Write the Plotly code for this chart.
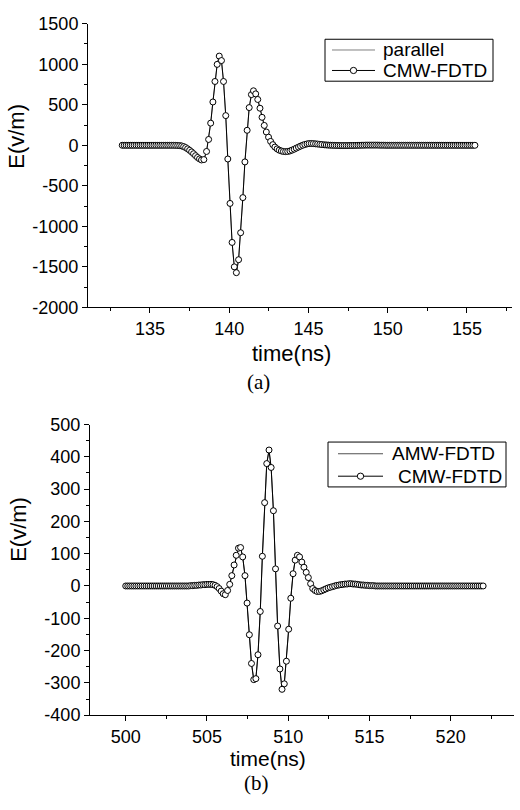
import plotly.graph_objects as go

# ---------------- data: panel (a) ----------------
top_time = [
    133.25, 133.375, 133.5, 133.625, 133.75, 133.875, 134.0, 134.125, 134.25, 134.375,
    134.5, 134.625, 134.75, 134.875, 135.0, 135.125, 135.25, 135.375, 135.5, 135.625,
    135.75, 135.875, 136.0, 136.125, 136.25, 136.375, 136.5, 136.625, 136.75, 136.875,
    137.0, 137.125, 137.25, 137.375, 137.5, 137.625, 137.75, 137.875, 138.0, 138.125,
    138.25, 138.4,
    138.57, 138.70, 138.83, 138.97, 139.10, 139.24, 139.37, 139.51, 139.64, 139.78,
    139.91, 140.05, 140.18, 140.32, 140.45, 140.59, 140.72, 140.86, 140.99, 141.13,
    141.26, 141.40, 141.53, 141.67, 141.80, 141.94, 142.07, 142.21, 142.34, 142.48,
    142.61, 142.75, 142.88, 143.02, 143.15, 143.29, 143.42, 143.56, 143.69, 143.83,
    143.96, 144.10, 144.23, 144.37, 144.50, 144.64, 144.77, 144.91, 145.04, 145.18,
    145.31, 145.45, 145.58, 145.72, 145.85,
    146.0, 146.125, 146.25, 146.375, 146.5, 146.625, 146.75, 146.875,
    147.0, 147.125, 147.25, 147.375, 147.5, 147.625, 147.75, 147.875,
    148.0, 148.125, 148.25, 148.375, 148.5, 148.625, 148.75, 148.875,
    149.0, 149.125, 149.25, 149.375, 149.5, 149.625, 149.75, 149.875,
    150.0, 150.125, 150.25, 150.375, 150.5, 150.625, 150.75, 150.875,
    151.0, 151.125, 151.25, 151.375, 151.5, 151.625, 151.75, 151.875,
    152.0, 152.125, 152.25, 152.375, 152.5, 152.625, 152.75, 152.875,
    153.0, 153.125, 153.25, 153.375, 153.5, 153.625, 153.75, 153.875,
    154.0, 154.125, 154.25, 154.375, 154.5, 154.625, 154.75, 154.875,
    155.0, 155.125, 155.25, 155.375, 155.5,
]
top_e = [
    0, 0, 0, 0, 0, 0, 0, 0, 0, 0,
    0, 0, 0, 0, 0, 0, 0, 0, 0, 0,
    0, 0, 0, 0, 0, 0, 0, -1, -2, -4,
    -8, -16, -28, -44, -62, -82, -104, -128, -150, -168,
    -181, -176,
    -76, 72, 273, 534, 787, 998, 1100, 1045, 787, 366,
    -169, -717, -1198, -1499, -1571, -1411, -1078, -645, -205, 185,
    465, 625, 672, 634, 565, 457, 345, 245, 164, 100,
    48, 8, -22, -44, -60, -70, -76, -78, -76, -70,
    -60, -48, -35, -22, -10, 1, 10, 17, 21, 22,
    21, 18, 15, 12, 9,
    6, 4, 2, 1, 0, -1, -2, -2,
    -3, -3, -3, -3, -3, -2, -2, -1,
    -1, 0, 0, 1, 1, 2, 2, 2,
    2, 2, 2, 2, 1, 1, 1, 0,
    0, 0, 0, 0, 0, 0, 0, 0,
    0, 0, 0, 0, 0, 0, 0, 0,
    0, 0, 0, 0, 0, 0, 0, 0,
    0, 0, 0, 0, 0, 0, 0, 0,
    0, 0, 0, 0, 0, 0, 0, 0,
    0, 0, 0, 0, 0,
]

# ---------------- data: panel (b) ----------------
bot_time = [
    500.0, 500.125, 500.25, 500.375, 500.5, 500.625, 500.75, 500.875,
    501.0, 501.125, 501.25, 501.375, 501.5, 501.625, 501.75, 501.875,
    502.0, 502.125, 502.25, 502.375, 502.5, 502.625, 502.75, 502.875,
    503.0, 503.125, 503.25, 503.375, 503.5, 503.625, 503.75, 503.875,
    504.0, 504.125, 504.25, 504.375, 504.5, 504.625, 504.75, 504.875,
    505.0, 505.125, 505.25, 505.375, 505.5, 505.625, 505.75, 505.875,
    506.00, 506.13, 506.27, 506.40, 506.53, 506.67, 506.80, 506.94, 507.07, 507.20,
    507.34, 507.47, 507.61, 507.74, 507.88, 508.01, 508.14, 508.28, 508.41, 508.55,
    508.68, 508.82, 508.95, 509.09, 509.22, 509.35, 509.49, 509.62, 509.76, 509.89,
    510.03, 510.16, 510.30, 510.43, 510.57, 510.70, 510.84, 510.97, 511.11, 511.24,
    511.38, 511.51, 511.65, 511.78, 511.92, 512.05, 512.19, 512.32, 512.46, 512.59,
    512.73, 512.86, 513.00,
    513.125, 513.25, 513.375, 513.5, 513.625, 513.75, 513.875,
    514.0, 514.125, 514.25, 514.375, 514.5, 514.625, 514.75, 514.875,
    515.0, 515.125, 515.25, 515.375, 515.5, 515.625, 515.75, 515.875,
    516.0, 516.125, 516.25, 516.375, 516.5, 516.625, 516.75, 516.875,
    517.0, 517.125, 517.25, 517.375, 517.5, 517.625, 517.75, 517.875,
    518.0, 518.125, 518.25, 518.375, 518.5, 518.625, 518.75, 518.875,
    519.0, 519.125, 519.25, 519.375, 519.5, 519.625, 519.75, 519.875,
    520.0, 520.125, 520.25, 520.375, 520.5, 520.625, 520.75, 520.875,
    521.0, 521.125, 521.25, 521.375, 521.5, 521.625, 521.75, 521.875,
    522.0,
]
bot_e = [
    0, 0, 0, 0, 0, 0, 0, 0,
    0, 0, 0, 0, 0, 0, 0, 0,
    0, 0, 0, 0, 0, 0, 0, 0,
    0, 0, 0, 0, 0, 0, 0, 0,
    1, 1, 2, 2, 3, 3, 4, 4,
    5, 5, 5, 4, 2, -2, -8, -16,
    -24, -27, -14, 5, 32, 65, 95, 117, 119, 90,
    32, -53, -151, -240, -290, -287, -213, -79, 92, 258,
    379, 421, 367, 233, 53, -124, -257, -320, -303, -233,
    -134, -38, 38, 80, 95, 90, 74, 58, 42, 26,
    7, -8, -14, -17, -17, -15, -12, -9, -6, -4,
    -2, 0, 2,
    3, 4, 5, 6, 6, 7, 7,
    6, 6, 5, 4, 3, 3, 2, 2,
    1, 1, 1, 0, 0, 0, 0, 0,
    0, 0, 0, 0, 0, 0, 0, 0,
    0, 0, 0, 0, 0, 0, 0, 0,
    0, 0, 0, 0, 0, 0, 0, 0,
    0, 0, 0, 0, 0, 0, 0, 0,
    0, 0, 0, 0, 0, 0, 0, 0,
    0, 0, 0, 0, 0, 0, 0, 0,
    0,
]

# ---------------- tick labels ----------------
top_x_ticks = [135, 140, 145, 150, 155]
top_y_ticks = [-2000, -1500, -1000, -500, 0, 500, 1000, 1500]
top_y_labels = ["-2000", "-1500", "-1000", "-500", "0", "500", "1000", "1500"]
bot_x_ticks = [500, 505, 510, 515, 520]
bot_y_ticks = [-400, -300, -200, -100, 0, 100, 200, 300, 400, 500]
bot_y_labels = ["-400", "-300", "-200", "-100", "0", "100", "200", "300", "400", "500"]

top_names = ["parallel", "CMW-FDTD"]
bot_names = ["AMW-FDTD", "CMW-FDTD"]

W, H = 520, 810
SANS = "Liberation Sans, Arial, sans-serif"
SERIF = "Liberation Serif, Times New Roman, serif"


def px_x(x):
    return x / W


def px_y(y):
    return 1 - y / H


fig = go.Figure()

marker_style = dict(symbol="circle", size=6, color="white", line=dict(color="black", width=1))

fig.add_trace(go.Scatter(x=top_time, y=top_e, mode="lines", name=top_names[0],
                         line=dict(color="#808080", width=1), xaxis="x", yaxis="y"))
fig.add_trace(go.Scatter(x=top_time, y=top_e, mode="lines+markers", name=top_names[1],
                         line=dict(color="black", width=1), marker=marker_style,
                         xaxis="x", yaxis="y"))
fig.add_trace(go.Scatter(x=bot_time, y=bot_e, mode="lines", name=bot_names[0],
                         line=dict(color="#505050", width=1), xaxis="x2", yaxis="y2"))
fig.add_trace(go.Scatter(x=bot_time, y=bot_e, mode="lines+markers", name=bot_names[1],
                         line=dict(color="black", width=1), marker=marker_style,
                         xaxis="x2", yaxis="y2"))

tickfont = dict(family=SANS, size=18, color="black")
axis_common = dict(showline=True, linecolor="black", linewidth=1, mirror=False,
                   showgrid=False, zeroline=False, ticks="outside", ticklen=5,
                   tickwidth=1, tickcolor="black", tickfont=tickfont)
minor_x = dict(ticks="outside", ticklen=3, tickwidth=1, tickcolor="black", dtick=2.5, tick0=0)

fig.update_layout(
    width=W, height=H,
    margin=dict(l=0, r=0, t=0, b=0),
    paper_bgcolor="white", plot_bgcolor="white",
    showlegend=False,
    xaxis=dict(domain=[px_x(88), px_x(512)], anchor="y", range=[131.09, 157.84],
               tickmode="array", tickvals=top_x_ticks, ticktext=[str(v) for v in top_x_ticks],
               minor=minor_x, **axis_common),
    yaxis=dict(domain=[px_y(305), px_y(14)], anchor="x", range=[-2000, 1500],
               tickmode="array", tickvals=top_y_ticks, ticktext=top_y_labels,
               minor=dict(ticks="outside", ticklen=3, tickwidth=1, tickcolor="black",
                          dtick=250, tick0=0),
               **axis_common),
    xaxis2=dict(domain=[px_x(90), px_x(514)], anchor="y2", range=[497.8, 523.9],
                tickmode="array", tickvals=bot_x_ticks, ticktext=[str(v) for v in bot_x_ticks],
                minor=minor_x, **axis_common),
    yaxis2=dict(domain=[px_y(723), px_y(425)], anchor="x2", range=[-400, 500],
                tickmode="array", tickvals=bot_y_ticks, ticktext=bot_y_labels,
                minor=dict(ticks="outside", ticklen=3, tickwidth=1, tickcolor="black",
                           dtick=50, tick0=0),
                **axis_common),
)

# ---------------- axis titles / captions ----------------
annots = [
    dict(text="E(v/m)", x=px_x(17), y=px_y(130), textangle=-90, size=22, family=SANS),
    dict(text="time(ns)", x=px_x(291), y=px_y(352), textangle=0, size=22, family=SANS),
    dict(text="(a)", x=px_x(258), y=px_y(381), textangle=0, size=21, family=SERIF),
    dict(text="E(v/m)", x=px_x(19), y=px_y(533), textangle=-90, size=22, family=SANS),
    dict(text="time(ns)", x=px_x(268), y=px_y(767), textangle=0, size=21, family=SANS),
    dict(text="(b)", x=px_x(256), y=px_y(793), textangle=0, size=21, family=SERIF),
]
for a in annots:
    fig.add_annotation(text=a["text"], x=a["x"], y=a["y"], xref="paper", yref="paper",
                       xanchor="center", yanchor="middle", showarrow=False,
                       textangle=a["textangle"],
                       font=dict(family=a["family"], size=a["size"], color="black"))


# ---------------- legends (drawn as boxes, sample lines and text) ----------------
def add_legend(box, rows):
    x0, y0, x1, y1 = box
    fig.add_shape(type="rect", xref="paper", yref="paper",
                  x0=px_x(x0), x1=px_x(x1), y0=px_y(y1), y1=px_y(y0),
                  line=dict(color="black", width=1), fillcolor="white", layer="above")
    for name, ypx, lx0, lx1, tx, color, with_marker in rows:
        fig.add_shape(type="line", xref="paper", yref="paper",
                      x0=px_x(lx0), x1=px_x(lx1), y0=px_y(ypx), y1=px_y(ypx),
                      line=dict(color=color, width=1), layer="above")
        if with_marker:
            cx = (lx0 + lx1) / 2
            r = 3.2
            fig.add_shape(type="circle", xref="paper", yref="paper",
                          x0=px_x(cx - r), x1=px_x(cx + r), y0=px_y(ypx + r), y1=px_y(ypx - r),
                          line=dict(color="black", width=1), fillcolor="white", layer="above")
        fig.add_annotation(text=name, x=px_x(tx), y=px_y(ypx), xref="paper", yref="paper",
                           xanchor="left", yanchor="middle", showarrow=False,
                           font=dict(family=SANS, size=19, color="black"))


add_legend((325, 30, 493, 73), [
    (top_names[0], 41, 332, 375, 381, "#808080", False),
    (top_names[1], 62, 332, 375, 381, "black", True),
])
add_legend((328, 443, 506, 489), [
    (bot_names[0], 455, 338, 383, 390, "#505050", False),
    (bot_names[1], 478, 338, 383, 396, "black", True),
])

fig.write_html("out.html", config={"displayModeBar": False},
               post_script="document.body.style.margin='0';")
